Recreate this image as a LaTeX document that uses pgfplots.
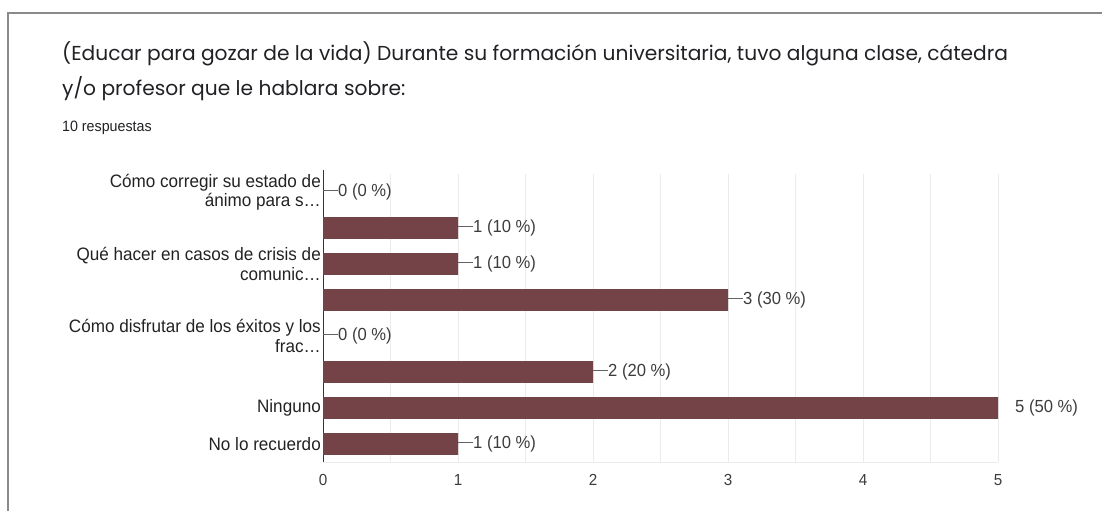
\documentclass[border=0pt]{standalone}
\usepackage{fontspec}
\usepackage{xcolor}
\usepackage{pgfplots}
\pgfplotsset{compat=1.18}
\setmainfont{Liberation Sans}
\newfontfamily\titlefam{Poppins}
\newfontfamily\labfam[FakeStretch=0.95]{Liberation Sans}
\definecolor{barc}{HTML}{744347}
\definecolor{txt}{HTML}{202124}
\definecolor{labc}{HTML}{222222}
\definecolor{valc}{HTML}{3C3C3C}
\definecolor{gridc}{HTML}{EBEBEB}
\definecolor{framec}{HTML}{8A8A8A}
\newcommand{\dsh}{\textcolor{valc!80}{\rule[0.3em]{15bp}{0.8bp}}}
\newcommand{\vl}[2]{\dsh#1 (#2 \%)}
\newcommand{\vlout}[2]{\hspace*{17bp}#1 (#2 \%)}
\begin{document}
\begin{tikzpicture}
\path[use as bounding box] (0,0) rectangle (1102bp,511bp);
\draw[framec, line width=2.5bp] (8bp,0) -- (8bp,498bp) -- (1102bp,498bp);
\node[anchor=base west, inner sep=0pt, text=txt, font={\titlefam\fontsize{20.2bp}{24bp}\selectfont}]
  at (62bp,450bp) {(Educar para gozar de la vida) Durante su formación universitaria, tuvo alguna clase, cátedra};
\node[anchor=base west, inner sep=0pt, text=txt, font={\titlefam\fontsize{20.2bp}{24bp}\selectfont}]
  at (62bp,415bp) {y/o profesor que le hablara sobre:};
\node[anchor=base west, inner sep=0pt, text=txt, font={\labfam\fontsize{15bp}{18bp}\selectfont}]
  at (62bp,379bp) {10 respuestas};
\begin{axis}[
    at={(323bp,49bp)}, anchor=south west,
    scale only axis, width=675bp, height=288bp,
    xbar, bar shift=0pt, bar width=0.61,
    xmin=0, xmax=5, ymin=-0.5, ymax=7.5,
    y dir=reverse, clip=false,
    xtick={0,1,2,3,4,5}, minor xtick={0.5,1.5,2.5,3.5,4.5},
    xmajorgrids, xminorgrids,
    major grid style={gridc, line width=1bp},
    minor grid style={gridc, line width=1bp},
    major tick length=0pt, minor tick length=0pt,
    axis y line*=left, axis x line*=bottom,
    x axis line style={draw=gridc, line width=1bp, -},
    y axis line style={draw=black!80, line width=1bp, -,
        shorten <=-4bp},
    ytick={0,1,2,3,4,5,6,7},
    yticklabels={{Cómo corregir su estado de\\ánimo para s…},{},
                 {Qué hacer en casos de crisis de\\comunic…},{},
                 {Cómo disfrutar de los éxitos y los\\frac…},{},
                 {Ninguno},{No lo recuerdo}},
    yticklabel style={align=right, text=labc, inner sep=2bp,
        font={\labfam\fontsize{18bp}{19.5bp}\selectfont}},
    xticklabel style={text=valc, yshift=-9bp,
        font={\labfam\fontsize{16bp}{18bp}\selectfont}},
    /pgf/number format/assume math mode=true,
    point meta=explicit symbolic,
    nodes near coords,
    nodes near coords style={anchor=west, inner sep=0pt, text=valc,
        font={\labfam\fontsize{17.5bp}{19bp}\selectfont}},
]
\addplot[fill=barc, draw=none] coordinates {
    (0,0) [\vl{0}{0}]
    (1,1) [\vl{1}{10}]
    (1,2) [\vl{1}{10}]
    (3,3) [\vl{3}{30}]
    (0,4) [\vl{0}{0}]
    (2,5) [\vl{2}{20}]
    (5,6) [\vlout{5}{50}]
    (1,7) [\vl{1}{10}]
};
\end{axis}
\end{tikzpicture}
\end{document}
